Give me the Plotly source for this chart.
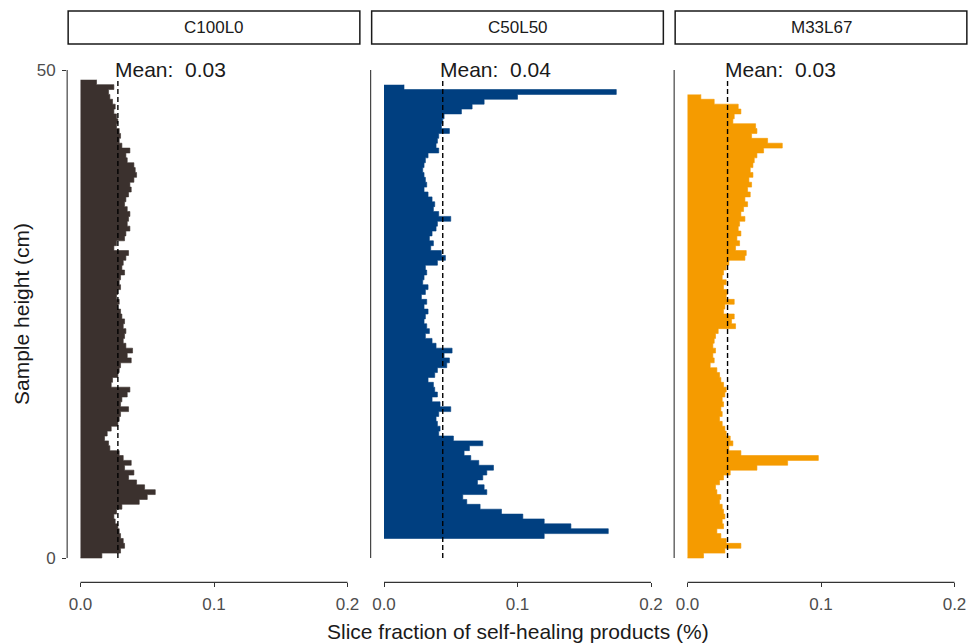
import plotly.graph_objects as go

# ---------------- data ----------------
PANELS = ["C100L0", "C50L50", "M33L67"]
COLORS = ["#3B312E", "#003F80", "#F59B00"]
SLICE_STEP = 0.5                    # cm between slices
TOP_HEIGHTS = [49.0, 48.5, 47.5]    # height of the top slice (cm)

C100L0 = [
    0.012, 0.025, 0.021, 0.022, 0.024, 0.026, 0.025, 0.027, 0.028, 0.027,
    0.029, 0.030, 0.029, 0.031, 0.037, 0.034, 0.035, 0.040, 0.041, 0.042,
    0.040, 0.037, 0.038, 0.036, 0.034, 0.033, 0.035, 0.037, 0.036, 0.035,
    0.037, 0.034, 0.033, 0.027, 0.025, 0.036, 0.034, 0.032, 0.031, 0.033,
    0.030, 0.029, 0.030, 0.028, 0.027, 0.029, 0.028, 0.030, 0.031, 0.033,
    0.032, 0.034, 0.033, 0.032, 0.034, 0.039, 0.035, 0.038, 0.030, 0.029,
    0.028, 0.024, 0.023, 0.037, 0.035, 0.031, 0.030, 0.036, 0.030, 0.029,
    0.028, 0.023, 0.020, 0.018, 0.021, 0.022, 0.029, 0.032, 0.038, 0.033,
    0.040, 0.036, 0.042, 0.048, 0.056, 0.050, 0.044, 0.031, 0.027, 0.025,
    0.026, 0.028, 0.029, 0.030, 0.032, 0.033, 0.030, 0.016,
]
C50L50 = [
    0.015, 0.174, 0.100, 0.075, 0.066, 0.058, 0.045, 0.044, 0.043, 0.049,
    0.041, 0.040, 0.039, 0.041, 0.033, 0.031, 0.030, 0.029, 0.030, 0.031,
    0.032, 0.030, 0.033, 0.036, 0.038, 0.037, 0.041, 0.050, 0.040, 0.039,
    0.036, 0.034, 0.037, 0.035, 0.043, 0.046, 0.040, 0.031, 0.032, 0.030,
    0.029, 0.033, 0.031, 0.028, 0.032, 0.030, 0.033, 0.031, 0.030, 0.032,
    0.034, 0.031, 0.036, 0.039, 0.051, 0.045, 0.049, 0.047, 0.040, 0.038,
    0.033, 0.037, 0.038, 0.040, 0.036, 0.042, 0.050, 0.041, 0.039, 0.040,
    0.042, 0.041, 0.052, 0.074, 0.064, 0.060, 0.065, 0.071, 0.082, 0.077,
    0.074, 0.070, 0.075, 0.077, 0.059, 0.062, 0.072, 0.088, 0.104, 0.120,
    0.140, 0.168, 0.120,
]
M33L67 = [
    0.010, 0.020, 0.038, 0.040, 0.035, 0.034, 0.051, 0.052, 0.048, 0.060,
    0.071, 0.057, 0.052, 0.050, 0.049, 0.047, 0.049, 0.046, 0.048, 0.045,
    0.047, 0.043, 0.045, 0.042, 0.040, 0.043, 0.039, 0.038, 0.040, 0.037,
    0.039, 0.036, 0.044, 0.043, 0.031, 0.029, 0.027, 0.026, 0.029, 0.027,
    0.030, 0.029, 0.035, 0.028, 0.027, 0.035, 0.033, 0.036, 0.023, 0.021,
    0.020, 0.019, 0.021, 0.019, 0.020, 0.017, 0.022, 0.024, 0.025, 0.027,
    0.029, 0.028, 0.026, 0.027, 0.025, 0.026, 0.024, 0.026, 0.028, 0.029,
    0.032, 0.034, 0.031, 0.040, 0.098, 0.075, 0.052, 0.032, 0.027, 0.024,
    0.021, 0.022, 0.025, 0.024, 0.026, 0.027, 0.028, 0.026, 0.027, 0.022,
    0.025, 0.029, 0.040, 0.028, 0.012,
]
SERIES = [C100L0, C50L50, M33L67]
MEANS = [0.028, 0.044, 0.030]
MEAN_LABELS = ["0.03", "0.04", "0.03"]
MEAN_LINE_TOP = 49.0

X_TICKS = [0.0, 0.1, 0.2]
X_TICK_TEXT = ["0.0", "0.1", "0.2"]
Y_TICKS = [0, 50]
X_TITLE = "Slice fraction of self-healing products (%)"
Y_TITLE = "Sample height (cm)"

# ---------------- layout helpers ----------------
W, H = 968, 644
FONT = "Liberation Sans, Arial, sans-serif"


def fx(p):
    return p / W


def fy(p):
    return 1 - p / H


X_DOMAINS_PX = [(67.15, 360.85), (370.65, 664.35), (674.15, 967.85)]
Y_DOMAIN_PX = (582.4, 45.6)
STRIP_PX = (11, 44)

fig = go.Figure()
shapes = []
annotations = []
layout_axes = {}

for i, (name, vals, top, color, mean, mlab) in enumerate(
        zip(PANELS, SERIES, TOP_HEIGHTS, COLORS, MEANS, MEAN_LABELS)):
    sfx = "" if i == 0 else str(i + 1)
    xa, ya = "x" + sfx, "y" + sfx
    heights = [top - SLICE_STEP * k for k in range(len(vals) + 1)]
    xs = list(vals) + [0.0]
    fig.add_trace(go.Scatter(
        x=xs, y=heights, mode="lines",
        line=dict(shape="vh", color=color, width=0.6),
        fill="tozerox", fillcolor=color,
        xaxis=xa, yaxis=ya, showlegend=False, hoverinfo="skip"))
    fig.add_trace(go.Scatter(
        x=[mean, mean], y=[0, MEAN_LINE_TOP], mode="lines",
        line=dict(color="black", width=1.4, dash="5px,3px"),
        xaxis=xa, yaxis=ya, showlegend=False, hoverinfo="skip"))

    d0, d1 = X_DOMAINS_PX[i]
    layout_axes["xaxis" + sfx] = dict(
        domain=[fx(d0), fx(d1)], range=[-0.01, 0.21], anchor=ya,
        tickvals=X_TICKS, ticktext=X_TICK_TEXT, ticks="outside", ticklen=4,
        tickwidth=1.1, tickcolor="#333333", showline=False, showgrid=False,
        zeroline=False, automargin=False, ticklabelstandoff=2,
        tickfont=dict(family=FONT, size=17, color="#4D4D4D"))
    layout_axes["yaxis" + sfx] = dict(
        domain=[fy(Y_DOMAIN_PX[0]), fy(Y_DOMAIN_PX[1])], range=[-2.5, 52.5],
        anchor=xa, tickvals=Y_TICKS if i == 0 else [],
        ticks="outside" if i == 0 else "", ticklen=4, tickwidth=1.1,
        tickcolor="#333333", showticklabels=(i == 0), showline=False,
        showgrid=False, zeroline=False, automargin=False, ticklabelstandoff=3,
        tickfont=dict(family=FONT, size=17, color="#4D4D4D"))

    # capped x-axis line
    shapes.append(dict(type="line", xref=xa, yref=ya + " domain",
                       x0=X_TICKS[0], x1=X_TICKS[-1], y0=0, y1=0,
                       line=dict(color="#333333", width=1.1)))
    # capped y-axis line
    shapes.append(dict(type="line", xref=xa + " domain", yref=ya,
                       x0=0, x1=0, y0=Y_TICKS[0], y1=Y_TICKS[-1],
                       line=dict(color="#333333", width=1.1)))
    # strip box
    shapes.append(dict(type="rect", xref="paper", yref="paper",
                       x0=fx(d0 + 1), x1=fx(d1 - 1),
                       y0=fy(STRIP_PX[1]), y1=fy(STRIP_PX[0]),
                       fillcolor="white", line=dict(color="#1A1A1A", width=1.5)))
    annotations.append(dict(
        xref="paper", yref="paper", x=fx((d0 + d1) / 2),
        y=fy((STRIP_PX[0] + STRIP_PX[1]) / 2), text=name, showarrow=False,
        xanchor="center", yanchor="middle",
        font=dict(family=FONT, size=17, color="#1A1A1A")))
    # mean label
    annotations.append(dict(
        xref=xa, yref=ya, x=mean, y=50, text="Mean:  " + mlab,
        showarrow=False, xanchor="left", yanchor="middle", xshift=-5,
        font=dict(family=FONT, size=21, color="#1A1A1A")))

annotations.append(dict(
    xref="paper", yref="paper", x=fx((X_DOMAINS_PX[0][0] + X_DOMAINS_PX[2][1]) / 2),
    y=fy(631), text=X_TITLE, showarrow=False, xanchor="center", yanchor="middle",
    font=dict(family=FONT, size=21, color="#1A1A1A")))
annotations.append(dict(
    xref="paper", yref="paper", x=fx(21),
    y=fy((Y_DOMAIN_PX[0] + Y_DOMAIN_PX[1]) / 2), text=Y_TITLE, showarrow=False,
    textangle=-90, xanchor="center", yanchor="middle",
    font=dict(family=FONT, size=21, color="#1A1A1A")))

fig.update_layout(
    width=W, height=H, margin=dict(l=0, r=0, t=0, b=0),
    paper_bgcolor="white", plot_bgcolor="white",
    shapes=shapes, annotations=annotations, **layout_axes)

fig.write_html("out.html")
